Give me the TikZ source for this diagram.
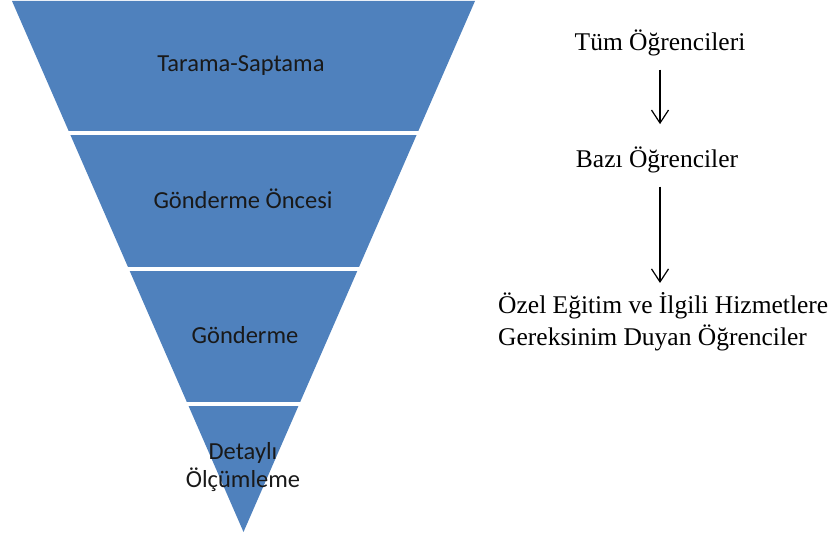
\documentclass[tikz,border=0pt]{standalone}
\usepackage{fontspec}
\setmainfont{Liberation Serif}
\newfontfamily\funnelfont{Carlito}
\usetikzlibrary{arrows.meta, positioning}
\definecolor{funnelblue}{HTML}{4F81BD}

\begin{document}
\begin{tikzpicture}[x=1pt, y=-1pt,
    band/.style={fill=funnelblue},
    gap/.style={draw=white, line width=3.5pt},
    stage/.style={font=\funnelfont\fontsize{24.5}{28}\selectfont,
        text=black!90, align=center, inner sep=0pt},
    group/.style={font=\fontsize{25.5}{32}\selectfont, inner sep=0pt},
    flow/.style={-{Straight Barb[length=13pt,width=17pt]}, line width=1.2pt}]
    \useasboundingbox (0,0) rectangle (838,537);

    % funnel
    \fill[band] (12,1) -- (475,1) -- (243.5,532) -- cycle;
    \draw[gap] (0,133) -- (480,133);
    \draw[gap] (0,269) -- (480,269);
    \draw[gap] (0,404) -- (480,404);

    \node[stage] (tarama) at (241,66) {Tarama-Saptama};
    \node[stage] (oncesi) at (243,199) {Gönderme Öncesi};
    \node[stage] (gonderme) at (245,335) {Gönderme};
    \node[stage] (detayli) at (243,467) {Detaylı\\Ölçümleme};

    % students
    \node[group, anchor=base] (tum) at (660,51) {Tüm Öğrencileri};
    \node[group, anchor=base] (bazi) at (657,168) {Bazı Öğrenciler};
    \node[group, anchor=north west, align=left] (ozel) at (498,292)
        {Özel Eğitim ve İlgili Hizmetlere\\Gereksinim Duyan Öğrenciler};

    \draw[flow, shorten <=13pt, shorten >=23pt] (tum.south) -- (tum.south |- bazi.north);
    \draw[flow, shorten <=13pt, shorten >=9pt] (tum.south |- bazi.south) -- (tum.south |- ozel.north);

\end{tikzpicture}
\end{document}
